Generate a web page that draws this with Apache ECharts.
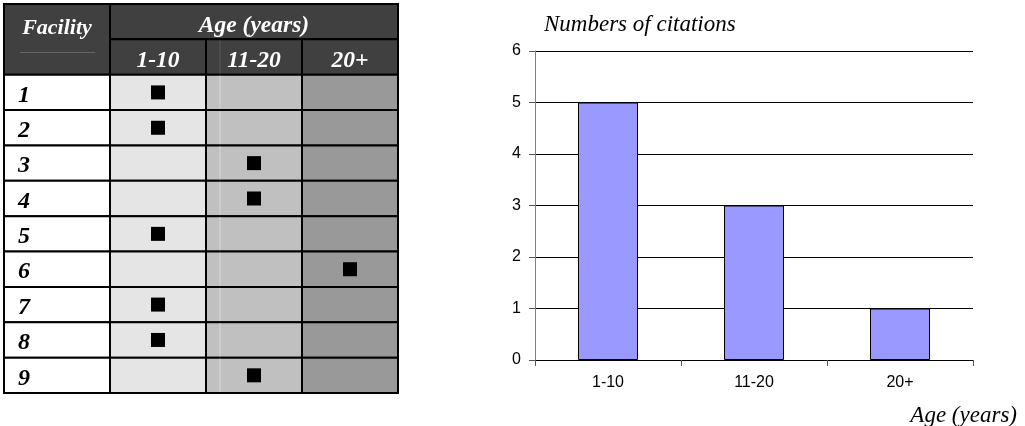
<!DOCTYPE html>
<html>
<head>
<meta charset="utf-8">
<script src="https://cdn.jsdelivr.net/npm/echarts@6/dist/echarts.min.js"></script>
<style>
  html, body { margin: 0; padding: 0; background: #fff; }
  #main { width: 1025px; height: 426px; }
</style>
</head>
<body>
<div id="main"></div>
<script>
// table: facilities and their age group
const facilities = ['1', '2', '3', '4', '5', '6', '7', '8', '9'];
const ageGroups = ['1-10', '11-20', '20+'];
const facilityAge = ['1-10', '1-10', '11-20', '11-20', '1-10', '20+', '1-10', '1-10', '11-20'];
// bar chart
const citations = [5, 3, 1];

const tableHeader = 'Facility';
const ageHeader = 'Age (years)';
const barTitle = 'Numbers of citations';
const barXName = 'Age (years)';

const rows = ['head', 'subhead'].concat(facilities);
const serif = '"Liberation Serif", "Times New Roman", serif';
const sans = '"Liberation Sans", Arial, sans-serif';
const colFills = ['#e5e5e5', '#c0c0c0', '#999999'];
const headFill = '#404040';

// cells of the facility column
let labelCells = [{ value: [0, 0, 1, 2], name: tableHeader, kind: 'head' }];
facilities.forEach(function (f, i) {
    labelCells.push({ value: [0, i + 2, 1, 1], name: f, kind: 'label' });
});

// cells of the age matrix
let ageCells = [{ value: [0, 0, 3, 1], name: ageHeader, kind: 'head' }];
ageGroups.forEach(function (a, c) {
    ageCells.push({ value: [c, 1, 1, 1], name: a, kind: 'head' });
});
facilities.forEach(function (f, i) {
    ageGroups.forEach(function (a, c) {
        ageCells.push({ value: [c, i + 2, 1, 1], name: '', kind: 'body' });
    });
});

// markers: one black square per facility in its age column
let marks = facilityAge.map(function (a, i) {
    return [ageGroups.indexOf(a), i + 2];
});

function makeRender(cells) {
    return function (params, api) {
        let cell = cells[params.dataIndex];
        let col = api.value(0);
        let row = api.value(1);
        let size = api.size([1, 1]);
        let center = api.coord([col, row]);
        let x = center[0] - size[0] / 2;
        let y = center[1] - size[1] / 2;
        let w = size[0] * api.value(2);
        let h = size[1] * api.value(3);
        let fill = '#fff';
        if (cell.kind === 'head') fill = headFill;
        if (cell.kind === 'body') fill = colFills[col];
        let children = [{
            type: 'rect',
            shape: { x: x, y: y, width: w, height: h },
            style: { fill: fill, stroke: '#000', lineWidth: 2 }
        }];
        // faint line seen in the 11-20 column
        if (cells === ageCells && col === 1 && row >= 1) {
            children.push({
                type: 'line',
                shape: { x1: x + 14, y1: y + 1, x2: x + 14, y2: y + h - 1 },
                style: { stroke: row === 1 ? '#585858' : '#d6d6d6', lineWidth: 1 }
            });
        }
        if (cell.name === tableHeader) {
            children.push({
                type: 'line',
                shape: { x1: x + 16, y1: y + 48.5, x2: x + 91, y2: y + 48.5 },
                style: { stroke: '#666', lineWidth: 1 }
            });
        }
        if (cell.kind === 'head') {
            let isFacility = cell.name === tableHeader;
            let ty = isFacility ? y + 24 : y + h / 2 + 4;
            children.push({
                type: 'text',
                style: {
                    text: cell.name, x: x + w / 2, y: ty,
                    align: 'center', verticalAlign: 'middle',
                    fill: '#fff', font: 'italic bold ' + (isFacility ? 22 : 23.5) + 'px ' + serif
                }
            });
        } else if (cell.kind === 'label') {
            children.push({
                type: 'text',
                style: {
                    text: cell.name, x: x + 14, y: y + h / 2 + 3,
                    align: 'left', verticalAlign: 'middle',
                    fill: '#000', font: 'italic bold 24px ' + serif
                }
            });
        }
        return { type: 'group', children: children };
    };
}

let myChart = echarts.init(document.getElementById('main'));
myChart.setOption({
    backgroundColor: '#fff',
    animation: false,
    title: [{
        text: barTitle,
        left: 539, top: 8,
        textStyle: { fontFamily: serif, fontStyle: 'italic', fontWeight: 'normal', fontSize: 23, color: '#000' }
    }, {
        text: barXName,
        right: 3, top: 399.5,
        textStyle: { fontFamily: serif, fontStyle: 'italic', fontWeight: 'normal', fontSize: 23, color: '#000' }
    }],
    grid: [
        { left: 4, top: 4, width: 106, height: 389 },
        { left: 110, top: 4, width: 288, height: 389 },
        { left: 535, top: 51, width: 438, height: 309 }
    ],
    xAxis: [
        { gridIndex: 0, type: 'category', data: [tableHeader], show: false },
        { gridIndex: 1, type: 'category', data: ageGroups, show: false },
        {
            gridIndex: 2, type: 'category', data: ageGroups,
            axisLine: { lineStyle: { color: '#000', width: 1 } },
            axisTick: { show: true, length: 6, lineStyle: { color: '#555' } },
            axisLabel: { color: '#000', fontFamily: sans, fontSize: 16, margin: 15 }
        }
    ],
    yAxis: [
        { gridIndex: 0, type: 'category', data: rows, inverse: true, show: false },
        { gridIndex: 1, type: 'category', data: rows, inverse: true, show: false },
        {
            gridIndex: 2, type: 'value', min: 0, max: 6, interval: 1,
            axisLine: { show: true, lineStyle: { color: '#808080', width: 1 } },
            axisTick: { show: true, length: 6, lineStyle: { color: '#555' } },
            axisLabel: { color: '#000', fontFamily: sans, fontSize: 16, margin: 14 },
            splitLine: { lineStyle: { color: '#000', width: 1 } }
        }
    ],
    series: [{
        type: 'custom',
        xAxisIndex: 0, yAxisIndex: 0,
        encode: { x: 0, y: 1 },
        renderItem: makeRender(labelCells),
        data: labelCells
    }, {
        type: 'custom',
        xAxisIndex: 1, yAxisIndex: 1,
        encode: { x: 0, y: 1 },
        renderItem: makeRender(ageCells),
        data: ageCells
    }, {
        type: 'scatter',
        xAxisIndex: 1, yAxisIndex: 1,
        symbol: 'rect', symbolSize: 14,
        itemStyle: { color: '#000', opacity: 1 },
        z: 5,
        data: marks
    }, {
        type: 'bar',
        xAxisIndex: 2, yAxisIndex: 2,
        barWidth: 60,
        itemStyle: { color: '#9999ff', borderColor: '#000', borderWidth: 1 },
        data: citations
    }]
});
</script>
</body>
</html>
